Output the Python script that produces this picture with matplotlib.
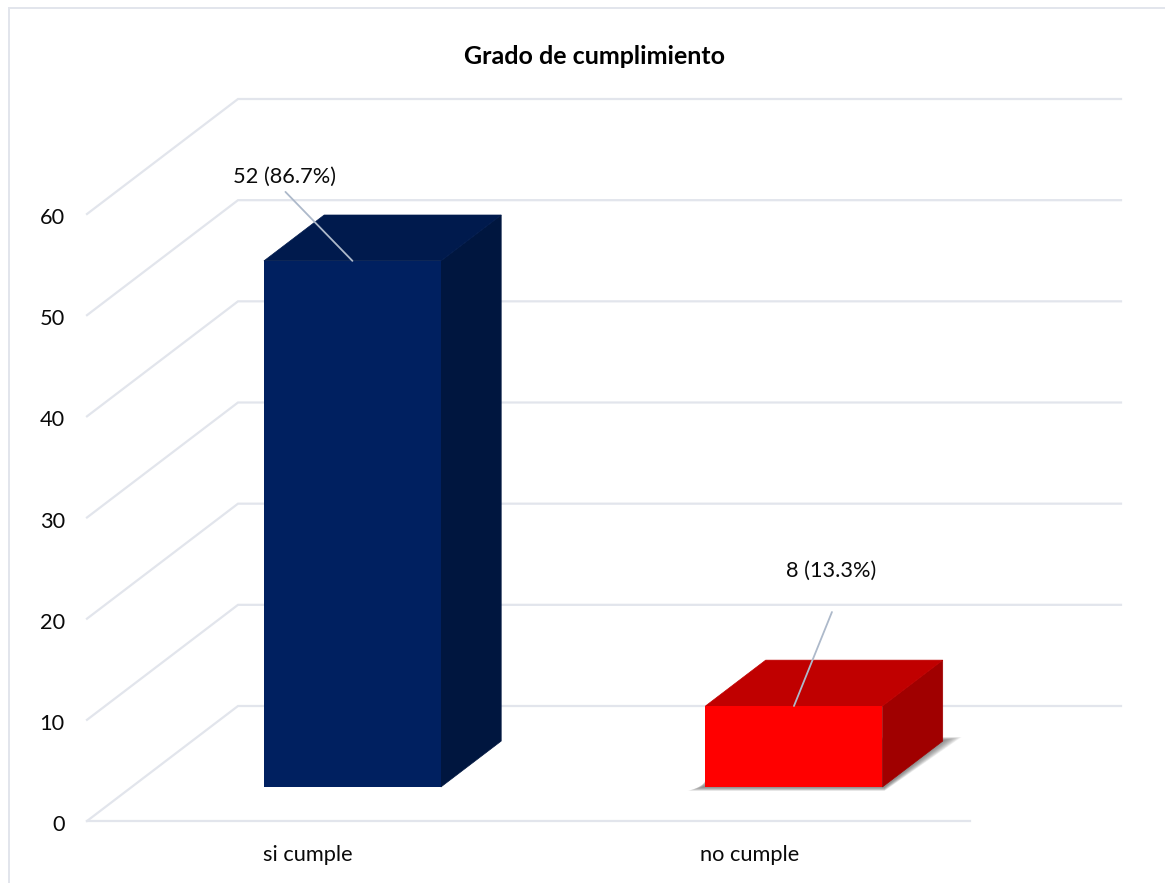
import matplotlib
matplotlib.use("Agg")
import matplotlib.pyplot as plt
from matplotlib.patches import Polygon
from matplotlib.lines import Line2D
from matplotlib.transforms import ScaledTranslation

plt.rcParams['font.family'] = ['Lato', 'DejaVu Sans']

title = "Grado de cumplimiento"
categories = ["si cumple", "no cumple"]
values = [52, 8]
labels = ["52 (86.7%)", "8 (13.3%)"]
yticks = [0, 10, 20, 30, 40, 50, 60]

W, H = 1165, 883
GRID = "#e2e5ec"
LEAD = "#adb9ca"
FRONT = ["#002060", "#ff0000"]
TOP = ["#001a4d", "#c00000"]
SIDE = ["#00163f", "#a00000"]
TXT = "#0a0a0a"

fig = plt.figure(figsize=(W / 100, H / 100), dpi=100, facecolor="white")
# plot area in pixels: x 87..970, y 821..214
ax = fig.add_axes([87 / W, 1 - 821 / H, (970 - 87) / W, (821 - 214) / H])
ax.set_xlim(0, 2)
ax.set_ylim(0, 60)
ax.patch.set_alpha(0)
for s in ax.spines.values():
    s.set_visible(False)

PX = 2 / (970 - 87)
PY = 60 / (821 - 214)
DX, DY = 151 * PX, 115 * PY        # wall depth
D0, D1 = 0.296, 0.695              # bar depth range (fraction of the wall)
BW = 177 * PX                      # bar width


def proj(x, y, d):
    return (x + d * DX, y + d * DY)


# walls and floor
for v in yticks:
    ax.plot([0, DX, 2 + DX], [v, v + DY, v + DY], color=GRID, lw=1.6, clip_on=False,
            solid_joinstyle="miter", zorder=1)
ax.plot([0, 2], [0, 0], color=GRID, lw=1.6, clip_on=False, zorder=1)

# soft shadow of the red bar on the floor
xc = 1.5
xl, xr = xc - BW / 2, xc + BW / 2
n = 16
for k in range(n):
    t = 1 - k / (n - 1)
    a = proj(xl, 0, D0)
    b = proj(xr, 0, D0)
    c = proj(xr, 0, D1)
    poly = [(a[0] - (3 + 15 * t) * PX, a[1] - (0.5 + 3.5 * t) * PY),
            (b[0] + 2 * PX, b[1] - (0.5 + 3.5 * t) * PY),
            (c[0] + (2 + 17 * t) * PX, c[1] + (1 + 3 * t) * PY),
            (b[0], c[1] + (1 + 3 * t) * PY),
            (a[0], a[1] + (1 + 6 * (1 - t)) * PY)]
    ax.add_patch(Polygon(poly, closed=True, fc="#555555", ec="none", alpha=0.06,
                         clip_on=False, zorder=2))

# bars
for i, v in enumerate(values):
    xc = i + 0.5
    xl, xr = xc - BW / 2, xc + BW / 2
    front = [proj(xl, 0, D0), proj(xr, 0, D0), proj(xr, v, D0), proj(xl, v, D0)]
    side = [proj(xr, 0, D0), proj(xr, 0, D1), proj(xr, v, D1), proj(xr, v, D0)]
    top = [proj(xl, v, D0), proj(xr, v, D0), proj(xr, v, D1), proj(xl, v, D1)]
    ax.add_patch(Polygon(side, fc=SIDE[i], ec=SIDE[i], lw=0.5, clip_on=False, zorder=3))
    ax.add_patch(Polygon(top, fc=TOP[i], ec=TOP[i], lw=0.5, clip_on=False, zorder=3))
    ax.add_patch(Polygon(front, fc=FRONT[i], ec="none", clip_on=False, zorder=4))

# data labels with leader lines (offsets in pixels from the top of the bar)
lead_end = [(-67, 69), (38, 94)]
text_off = [(-68, 84), (37, 135)]
for i, v in enumerate(values):
    anchor = proj(i + 0.5, v, D0)
    ax.annotate("", xy=anchor, xytext=lead_end[i], textcoords="offset pixels",
                arrowprops=dict(arrowstyle="-", color=LEAD, lw=1.3, shrinkA=0, shrinkB=0),
                zorder=5, annotation_clip=False)
    ax.annotate(labels[i], xy=anchor, xytext=text_off[i], textcoords="offset pixels",
                ha="center", va="center", fontsize=15.7, color=TXT, zorder=6,
                annotation_clip=False)

# axes ticks
ax.set_yticks(yticks)
ax.set_yticklabels([str(t) for t in yticks], fontsize=15.7, color=TXT)
ax.set_xticks([0.5, 1.5])
ax.set_xticklabels(categories, fontsize=15.7, color=TXT)
ax.tick_params(axis="y", length=0, pad=16)
ax.tick_params(axis="x", length=0, pad=17)
shift = ScaledTranslation(0, -1.5 / 72, fig.dpi_scale_trans)
for lab in ax.get_yticklabels():
    lab.set_transform(lab.get_transform() + shift)

fig.text(595 / W, 1 - 57 / H, title, ha="center", va="center", fontsize=18,
         fontweight="bold", color="#000000")

# chart frame
fig.add_artist(Line2D([9 / W, 9 / W], [0, 1 - 8 / H], color=GRID, lw=1.4))
fig.add_artist(Line2D([9 / W, 1165 / W], [1 - 8 / H, 1 - 8 / H], color=GRID, lw=1.4))

fig.savefig("out.png", dpi=100, facecolor="white")
